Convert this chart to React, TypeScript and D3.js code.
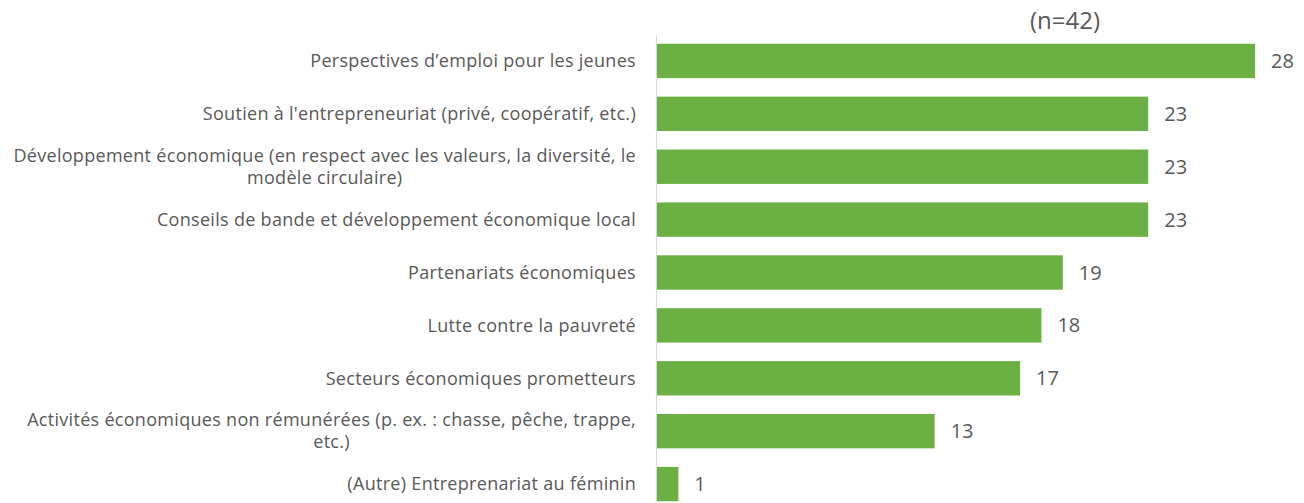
import React, { useEffect, useRef } from "react";
import * as d3 from "d3";

const categories: string[][] = [
  ["Perspectives d’emploi pour les jeunes"],
  ["Soutien à l'entrepreneuriat (privé, coopératif, etc.)"],
  ["Développement économique (en respect avec les valeurs, la diversité, le", "modèle circulaire)"],
  ["Conseils de bande et développement économique local"],
  ["Partenariats économiques"],
  ["Lutte contre la pauvreté"],
  ["Secteurs économiques prometteurs"],
  ["Activités économiques non rémunérées (p. ex. : chasse, pêche, trappe,", "etc.)"],
  ["(Autre) Entreprenariat au féminin"],
];
const values: number[] = [28, 23, 23, 23, 19, 18, 17, 13, 1];
const title = "(n=42)";

const W = 1304;
const H = 503;
const FONT = "'Open Sans', Lato, sans-serif";
const TEXT = "#595959";
const GREEN = "#6AB043";

export default function App() {
  const ref = useRef<SVGSVGElement | null>(null);

  useEffect(() => {
    const svg = d3.select(ref.current);
    svg.selectAll("*").remove();

    const ids = categories.map((_, i) => String(i));
    const x = d3.scaleLinear().domain([0, 28]).range([657, 1255]);
    const y = d3.scaleBand<string>().domain(ids).range([34.5, 510.5]).paddingInner(0.35).paddingOuter(0.175);

    svg.append("text")
      .attr("x", 1065).attr("y", 29)
      .attr("text-anchor", "middle")
      .attr("font-family", FONT).attr("font-size", 24)
      .attr("fill", TEXT).text(title);

    svg.append("g").selectAll("rect").data(values).join("rect")
      .attr("x", x(0))
      .attr("y", (_, i) => y(String(i))!)
      .attr("width", (d) => x(d) - x(0))
      .attr("height", y.bandwidth())
      .attr("fill", GREEN);

    svg.append("line")
      .attr("x1", 656.5).attr("x2", 656.5)
      .attr("y1", 35).attr("y2", H)
      .attr("stroke", "#D9D9D9").attr("stroke-width", 1);

    svg.append("g").selectAll("text").data(values).join("text")
      .attr("x", (d) => x(d) + 16)
      .attr("y", (_, i) => y(String(i))! + y.bandwidth() / 2)
      .attr("dy", "0.35em")
      .attr("font-family", FONT).attr("font-size", 20)
      .attr("fill", TEXT)
      .text((d) => String(d));

    const labelRight = 636;
    const lineH = 22;
    const fs = 18;
    const lg = svg.append("g");
    categories.forEach((lines, i) => {
      const cy = y(String(i))! + y.bandwidth() / 2;
      const g = lg.append("g");
      const texts = lines.map((ln, j) =>
        g.append("text")
          .attr("y", cy + (j - (lines.length - 1) / 2) * lineH)
          .attr("dy", "0.35em")
          .attr("font-family", FONT).attr("font-size", fs)
          .attr("letter-spacing", 0.3)
          .attr("fill", TEXT)
          .attr("text-anchor", "start")
          .text(ln)
      );
      const widths = texts.map((t) => (t.node() as SVGTextElement).getComputedTextLength());
      const maxW = Math.max(...widths);
      const cx = labelRight - maxW / 2;
      texts.forEach((t, j) => t.attr("x", cx - widths[j] / 2));
    });
  }, []);

  return (
    <div style={{ position: "absolute", left: 0, top: 0 }}>
      <svg ref={ref} width={W} height={H} style={{ display: "block", background: "#fff" }} />
    </div>
  );
}
